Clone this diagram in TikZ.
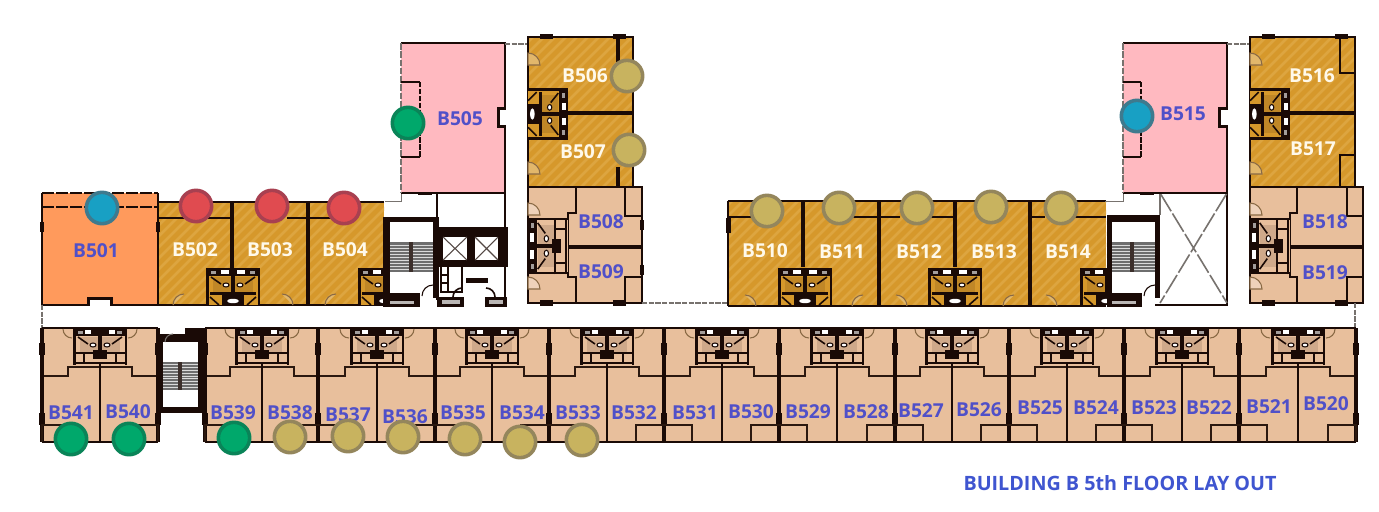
\documentclass[tikz,border=0pt]{standalone}
\usepackage{fontspec}
\setmainfont{Open Sans}
\definecolor{gold}{HTML}{D6982B}
\definecolor{goldlight}{HTML}{DDA540}
\definecolor{tan}{HTML}{E8BF9C}
\definecolor{pinkroom}{HTML}{FFB9C0}
\definecolor{orangeroom}{HTML}{FF9A5C}
\definecolor{ink}{HTML}{1A0A06}
\definecolor{labblue}{HTML}{5050C8}
\definecolor{titleblue}{HTML}{3F55D0}
\definecolor{labwhite}{HTML}{FFF9EA}
\definecolor{arcbrown}{HTML}{8A6A45}
\definecolor{greyline}{HTML}{77726E}
\definecolor{treadgrey}{HTML}{6E6E6E}
\definecolor{dotgold}{HTML}{C8B35F}
\definecolor{dotgoldline}{HTML}{94865C}
\definecolor{dotgreen}{HTML}{00A86B}
\definecolor{dotgreenline}{HTML}{0A8458}
\definecolor{dotblue}{HTML}{18A0C4}
\definecolor{dotblueline}{HTML}{3E7A8E}
\definecolor{dotred}{HTML}{E04B50}
\definecolor{dotredline}{HTML}{A84050}
\tikzset{
  wall/.style={draw=ink,line width=2pt,line cap=square},
  stepwall/.style={draw=ink!85!arcbrown,line width=1.6pt},
  thinwall/.style={draw=ink,line width=1.2pt},
  thickwall/.style={draw=ink,line width=3.2pt},
  faint/.style={draw=greyline,line width=.9pt,dash pattern=on 4pt off 1pt},
  doorarc/.style={draw=arcbrown,line width=.8pt},
  lab/.style={font=\fontsize{14.4}{14.4}\selectfont\bfseries,text=labblue,inner sep=0pt},
  wlab/.style={lab,text=labwhite},
  dot/.style={circle,minimum size=23.5pt,inner sep=0pt,line width=2.7pt},
  dgold/.style={dot,fill=dotgold,draw=dotgoldline},
  dgreen/.style={dot,fill=dotgreen,draw=dotgreenline},
  dblue/.style={dot,fill=dotblue,draw=dotblueline},
  dred/.style={dot,fill=dotred,draw=dotredline},
}
% gold room: flat colour with the faint diagonal grain
\newcommand\goldroom[4]{%
  \fill[gold] (#1,#2) rectangle (#3,#4);
  \begin{scope}
    \clip (#1,#2) rectangle (#3,#4);
    \foreach \k in {0,11,...,600}{\draw[goldlight,line width=2pt] ({#1+\k-200},#4) -- ({#1+\k},{#4-200});}
  \end{scope}}
% #1 transform, #2 background, #3 bar inner, #4 bar outer, #5 fixtures at the far end
\newcommand\bathblock[5]{%
  \begin{scope}[#1]
    \fill[#2] (-27,0) rectangle (27,37);
    \fill[#2!88!ink] (-20,9) rectangle (20,24);
    \fill[ink] (-27,0) rectangle (27,8);
    \fill[ink] (-27,0) rectangle (-24.5,37);
    \fill[ink] (24.5,0) rectangle (27,37);
    \fill[white] (-#4,2) rectangle (-#3,6);
    \fill[white] (#3,2) rectangle (#4,6);
    \fill[white!60!ink] (-22,2.5) rectangle (-17,5.5);
    \fill[white!60!ink] (17,2.5) rectangle (22,5.5);
    \draw[thinwall] (-22,9) -- (-12,16) (22,9) -- (12,16);
    \draw[ink,line width=.8pt,fill=white] (-7,17) ellipse (3 and 2);
    \draw[ink,line width=.8pt,fill=white] (7,17) ellipse (3 and 2);
    \draw[thickwall] (0,8) -- (0,26);
    #5
  \end{scope}}
\newcommand\fixA{% gold rooms
  \fill[ink] (-23,24) rectangle (23,27);
  \fill[ink] (-11,27) rectangle (11,37);
  \fill[white] (0,33) ellipse (6 and 2.2);
  \draw[thinwall] (-23,29) -- (-14,37) (23,29) -- (14,37);}
\newcommand\fixB{% tan rooms
  \draw[thinwall] (-27,25) -- (27,25);
  \draw[thinwall] (-16,25) -- (-16,35) (16,25) -- (16,35) (-27,35) -- (27,35);
  \fill[ink] (-7,22) rectangle (7,31);}
\newcommand\doorR[3]{\fill[#3!70!white] (#1,#2) arc[start angle=180,end angle=270,radius=11] -- cycle; \draw[doorarc] (#1,#2) arc[start angle=180,end angle=270,radius=11];}
\newcommand\doorL[3]{\fill[#3!70!white] (#1,#2) arc[start angle=0,end angle=-90,radius=11] -- cycle; \draw[doorarc] (#1,#2) arc[start angle=0,end angle=-90,radius=11];}
\newcommand\sidedoor[3]{\draw[doorarc,fill=#3!70!white] (#1,#2) arc[start angle=-90,end angle=0,radius=12] -- (#1,#2+12) -- cycle;}
% x1 x2 y1 y2 tread-top tread-bottom midx
\newcommand\stairs[7]{%
  \fill[white] (#1,#3) rectangle (#2,#4);
  \fill[treadgrey] (#1,#5) rectangle (#2,#6);
  \foreach \i in {1,...,9}{\draw[white!75!treadgrey,line width=.55pt] (#1,{#5+\i*(#6-#5)/10}) -- (#2,{#5+\i*(#6-#5)/10});}
  \fill[ink!85!white] (#7-2,#5) rectangle (#7+2,#6);}
\begin{document}
\begin{tikzpicture}[x=.75pt,y=-.75pt]
\useasboundingbox (0,0) rectangle (1379,511);
\fill[white] (0,0) rectangle (1379,511);

% ---------- room fills
\fill[orangeroom] (42,193) rectangle (158,305);
\goldroom{158}{202}{384}{305}
\fill[pinkroom] (401,43) rectangle (505,193);
\goldroom{528}{37}{633}{187}
\fill[tan] (528,187) rectangle (642,303);
\goldroom{728}{201}{1106}{306}
\fill[pinkroom] (1123,43) rectangle (1227,193);
\goldroom{1250}{37}{1355}{187}
\fill[tan] (1250,187) rectangle (1363,303);
\fill[tan] (42,328) rectangle (158,442);
\fill[tan] (205,328) rectangle (1356,442);

% ---------- B501
\draw[wall] (42,193) -- (42,305) -- (158,305) -- (158,193);
\draw[wall,dash pattern=on 9pt off 1.5pt] (42,193) -- (158,193);
\draw[thinwall,dash pattern=on 9pt off 1.5pt] (42,207) -- (158,207);
\fill[ink] (87,297) rectangle (113,305);
\fill[white] (90,300) rectangle (110,306);
\fill[ink] (40,222) rectangle (44,232);
\fill[ink] (156,222) rectangle (160,232);

% ---------- B502-B504
\draw[wall] (158,202) -- (384,202) (158,305) -- (384,305);
\draw[thickwall] (232,202) -- (232,268) (308,202) -- (308,305);
\draw[thinwall] (159,218) -- (232,218) (287,218) -- (308,218) (308,218) -- (340,218);
\bathblock{shift={(233,268)}}{gold}{4}{12}{\fixA}
\bathblock{shift={(385,268)}}{gold}{4}{12}{\fixA}
\doorR{173}{305}{gold}\doorL{293}{305}{gold}\doorR{325}{305}{gold}

% ---------- stair and core left
\fill[ink] (383,217) rectangle (439,298);
\stairs{390}{433}{222}{293}{242}{272}{411}
\fill[white] (420,293) rectangle (433,300);
\draw[draw=ink,line width=.8pt] (433,285) arc[start angle=-90,end angle=-180,radius=11];
\fill[ink] (383,298) rectangle (420,307);
\fill[white!70!ink] (390,300.5) rectangle (414,304);
\draw[draw=greyline,line width=.7pt] (401,193) -- (401,201) -- (385,201);
\draw[wall] (437,193) -- (437,300) (505,193) -- (505,300);
\fill[ink] (437,227) rectangle (508,267);
\foreach \xa/\xb in {443/467,475/498}{
  \fill[white] (\xa,237) rectangle (\xb,260);
  \draw[draw=ink!75!white,line width=.8pt] (\xa,237) -- (\xb,260) (\xb,237) -- (\xa,260);
}
\draw[thinwall] (441,267) -- (441,292) -- (462,292) -- (462,267) (448,267) -- (448,292) (441,275) -- (448,275) (441,283) -- (448,283);
\draw[thickwall] (466,280.5) -- (488,280.5);
\draw[thinwall] (453,297) arc[start angle=180,end angle=270,radius=9];
\draw[thinwall] (495,297) arc[start angle=0,end angle=-90,radius=9];
\fill[ink] (437,297) rectangle (464,307);
\fill[ink] (485,297) rectangle (507,307);
\fill[white!70!ink] (442,300) rectangle (460,304);
\fill[white!70!ink] (489,300) rectangle (503,304);

% ---------- B505
\draw[wall] (401,43) -- (505,43) -- (505,193) -- (401,193);
\draw[thinwall,dash pattern=on 5pt off 1.2pt,draw=greyline] (401,43) -- (401,193);
\draw[wall] (401,82) -- (420,82) (401,157) -- (420,157);
\draw[thinwall,dash pattern=on 4pt off 1.2pt] (420,82) -- (420,157);
\fill[ink] (497,107) rectangle (506,128);
\fill[white] (500,110) rectangle (506,125);
\fill[ink] (418,192) rectangle (432,195);
\draw[faint] (505,44) -- (528,44);

% ---------- B506 / B507
\draw[wall] (528,37) -- (633,37) -- (633,187) -- (528,187) -- cycle;
\draw[thickwall] (568,113) -- (633,113);
\draw[thickwall] (618,37) -- (618,62) (618,167) -- (618,187);
\fill[ink] (540,34) rectangle (553,39);\fill[ink] (613,34) rectangle (626,39);
\bathblock{shift={(568,114)},rotate=-90,xscale=.95,yscale=1.08}{gold}{4}{12}{\fixA}
\sidedoor{528}{53}{gold}\sidedoor{528}{162}{gold}

% ---------- B508 / B509
\draw[wall] (528,187) -- (642,187) -- (642,303) -- (528,303) -- cycle;
\draw[thickwall] (568,247) -- (642,247);
\draw[wall] (576,187) -- (576,213) -- (568,213) -- (568,277) -- (576,277) -- (576,303);
\draw[wall] (625,187) -- (625,216) -- (642,216) (625,303) -- (625,277) -- (642,277);
\bathblock{shift={(528,246)},rotate=90,xscale=1.05,yscale=1.08}{tan}{4}{12}{\fixB}
\sidedoor{528}{203}{tan}\sidedoor{528}{277}{tan}
\fill[ink] (540,300) rectangle (553,306);\fill[ink] (613,300) rectangle (626,306);
\fill[ink] (640,220) rectangle (644,230);\fill[ink] (640,265) rectangle (644,275);
\draw[faint] (642,303) -- (728,303);

% ---------- B510-B514
\draw[wall] (728,201) -- (1106,201) (728,306) -- (1106,306) (728,201) -- (728,306);
\draw[thickwall] (803,201) -- (803,267) (879,201) -- (879,306) (955,201) -- (955,267) (1030,201) -- (1030,306);
\fill[ink] (726,218) rectangle (731,233);
\draw[thinwall] (728,217) -- (780,217) (850,217) -- (879,217) (879,217) -- (900,217) (930,217) -- (955,217) (1030,217) -- (1045,217) (1075,217) -- (1106,217);
\bathblock{shift={(805,268)}}{gold}{4}{12}{\fixA}
\bathblock{shift={(955,268)}}{gold}{4}{12}{\fixA}
\bathblock{shift={(1107,268)}}{gold}{4}{12}{\fixA}
\doorL{756}{306}{gold}\doorR{852}{306}{gold}\doorL{907}{306}{gold}\doorR{1003}{306}{gold}\doorL{1057}{306}{gold}

% ---------- stair and void right
\fill[ink] (1107,215) rectangle (1160,298);
\stairs{1112}{1155}{222}{293}{242}{272}{1132}
\fill[white] (1142,293) rectangle (1155,300);
\draw[draw=ink,line width=.8pt] (1155,285) arc[start angle=-90,end angle=-180,radius=11];
\fill[ink] (1107,298) rectangle (1142,307);
\fill[white!70!ink] (1112,300.5) rectangle (1136,304);
\draw[draw=greyline,line width=.7pt] (1105,201) -- (1123,201) -- (1123,193);
\draw[draw=greyline,line width=.8pt] (1160,193) -- (1160,215);
\draw[wall] (1155,305) -- (1227,305) -- (1227,193);
\draw[draw=greyline,line width=1.2pt,dash pattern=on 16pt off 2pt] (1160,193) -- (1227,303) (1227,193) -- (1160,303);

% ---------- B515
\draw[wall] (1123,43) -- (1227,43) -- (1227,193) -- (1123,193);
\draw[thinwall,dash pattern=on 5pt off 1.2pt,draw=greyline] (1123,43) -- (1123,193);
\draw[wall] (1123,82) -- (1141,82) (1123,157) -- (1141,157);
\draw[thinwall,dash pattern=on 4pt off 1.2pt] (1141,82) -- (1141,157);
\fill[ink] (1218,107) rectangle (1228,128);
\fill[white] (1221,110) rectangle (1228,125);
\fill[ink] (1140,192) rectangle (1154,195);
\draw[faint] (1227,44) -- (1250,44);

% ---------- B516 / B517
\draw[wall] (1250,37) -- (1355,37) -- (1355,187) -- (1250,187) -- cycle;
\draw[thickwall] (1290,113) -- (1355,113);
\draw[wall] (1340,37) -- (1340,73) -- (1355,73) (1340,187) -- (1340,155) -- (1355,155);
\fill[ink] (1262,34) rectangle (1275,39);\fill[ink] (1335,34) rectangle (1348,39);
\bathblock{shift={(1290,114)},rotate=-90,xscale=.95,yscale=1.08}{gold}{4}{12}{\fixA}
\sidedoor{1250}{53}{gold}\sidedoor{1250}{162}{gold}

% ---------- B518 / B519
\draw[wall] (1250,187) -- (1363,187) -- (1363,303) -- (1250,303) -- cycle;
\draw[thickwall] (1290,247) -- (1363,247);
\draw[wall] (1297,187) -- (1297,213) -- (1290,213) -- (1290,277) -- (1297,277) -- (1297,303);
\draw[wall] (1347,187) -- (1347,216) -- (1363,216) (1347,303) -- (1347,277) -- (1363,277);
\bathblock{shift={(1250,246)},rotate=90,xscale=1.05,yscale=1.08}{tan}{4}{12}{\fixB}
\sidedoor{1250}{203}{tan}\sidedoor{1250}{277}{tan}
\fill[ink] (1262,300) rectangle (1275,306);\fill[ink] (1335,300) rectangle (1348,306);
\draw[faint] (1355,303) -- (1355,328);
\draw[faint] (42,305) -- (42,328);

% ---------- bottom row
\draw[wall] (42,328) -- (158,328) (205,328) -- (1356,328);
\draw[wall] (42,442) -- (158,442) (205,442) -- (1356,442);
\foreach \c/\l/\r in {100/42/158,262/205/318,377/318/435,492/435/549,607/549/664,722/664/779,837/779/895,952/895/1009,1067/1009/1124,1182/1124/1239,1298/1239/1356}{
  \bathblock{shift={(\c,328)}}{tan}{9}{15}{\fixB}
  \draw[doorarc] (\c-37,329) arc[start angle=180,end angle=90,radius=9];
  \draw[doorarc] (\c+37,329) arc[start angle=0,end angle=90,radius=9];
  \draw[stepwall] (\l,376) -- (\c-32,376) -- (\c-32,367) -- (\c+32,367) -- (\c+32,376) -- (\r,376);
  \draw[wall] (\c,363) -- (\c,442);
}
\foreach \e in {42,158,205,318,435,549,664,779,895,1009,1124,1239,1356}{
  \draw[thickwall] (\e,328) -- (\e,442);
  \fill[ink] (\e-3,343) rectangle (\e+3,355);
  \fill[ink] (\e-3,413) rectangle (\e+3,425);
}
\foreach \a/\b in {42/70,130/158,205/233,290/346,407/463,521/577,636/692,751/807,867/923,981/1037,1096/1152,1211/1267,1328/1356}{
  \draw[stepwall] (\a,442) -- (\a,425) -- (\b,425) -- (\b,442);
}
% bottom stair
\fill[ink] (158,328) rectangle (205,413);
\stairs{163}{198}{342}{407}{362}{390}{180}
\fill[white] (160,327) rectangle (185,334);
\draw[doorarc,draw=greyline] (165,342) arc[start angle=180,end angle=270,radius=8];

% ---------- labels
\foreach \n/\x/\y in {501/96/251,505/460/119,508/601/222,509/601/272,515/1183/114,518/1325/222,519/1325/273,
  541/71/413,540/128/412,539/233/413,538/290/413,537/348/415,536/405/417,535/463/413,534/522/413,533/578/413,532/634/413,531/695/413,530/751/412,529/808/412,528/866/412,527/921/411,526/979/410,525/1040/408,524/1096/408,523/1154/408,522/1209/408,521/1269/407,520/1326/404}
  {\node[lab] (B\n) at (\x,\y) {B\n};}
\foreach \n/\x/\y in {502/195/250,503/270/250,504/345/250,506/585/76,507/583/152,510/765/251,511/842/252,512/919/252,513/994/252,514/1068/252,516/1312/76,517/1313/149}
  {\node[wlab] (B\n) at (\x,\y) {B\n};}

% ---------- status dots
\node[dblue] (d501) at (102,208) {};
\node[dred] (d502) at (196,206) {};
\node[dred] (d503) at (272,206) {};
\node[dred] (d504) at (344,208) {};
\node[dgreen] (d505) at (408,123) {};
\node[dblue] (d515) at (1137,116) {};
\foreach \n/\x/\y in {506/627/76,507/629/150,510/767/211,511/839/208,512/917/208,513/991/207,514/1061/208,538/290/437,537/348/436,536/403/437,535/465/439,534/520/442,533/582/440}
  {\node[dgold] (d\n) at (\x,\y) {};}
\foreach \n/\x/\y in {541/71/439,540/129/439,539/234/438}
  {\node[dgreen] (d\n) at (\x,\y) {};}

\node[font=\fontsize{14.8}{14.8}\selectfont\bfseries,text=titleblue,inner sep=0pt] (title) at (1120,483) {BUILDING B 5th FLOOR LAY OUT};
\end{tikzpicture}
\end{document}
